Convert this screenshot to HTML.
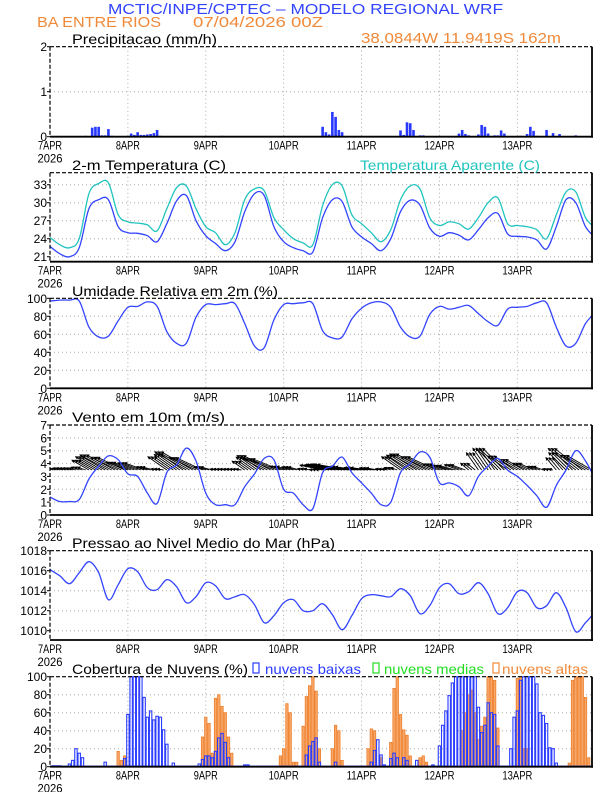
<!DOCTYPE html>
<html><head><meta charset="utf-8"><style>
html,body{margin:0;padding:0;background:#fff;}
svg{display:block;font-family:"Liberation Sans",sans-serif;}
</style></head><body>
<svg id="chart" width="612" height="792" viewBox="0 0 612 792" xmlns="http://www.w3.org/2000/svg">
<defs>
<marker id="ah" markerWidth="4" markerHeight="4" refX="3" refY="2" orient="auto" markerUnits="strokeWidth"><path d="M0,0 L4,2 L0,4 z" fill="#000"/></marker>
</defs>
<text x="108" y="14" font-size="15" fill="#3344ff" textLength="395" lengthAdjust="spacingAndGlyphs">MCTIC/INPE/CPTEC – MODELO REGIONAL WRF</text>
<text x="37" y="27" font-size="15" fill="#f08a3a" textLength="124" lengthAdjust="spacingAndGlyphs">BA ENTRE RIOS</text>
<text x="193" y="27" font-size="15" fill="#f08a3a" textLength="130" lengthAdjust="spacingAndGlyphs">07/04/2026 00Z</text>
<text x="361" y="43" font-size="15" fill="#f08a3a" textLength="200" lengthAdjust="spacingAndGlyphs">38.0844W 11.9419S 162m</text>
<g id="g"></g>
</svg>
<script>
// ---- data ----
const dayLabels = ["7APR","8APR","9APR","10APR","11APR","12APR","13APR"];
const hours3 = [0,3,6,9,12,15,18,21,24,27,30,33,36,39,42,45,48,51,54,57,60,63,66,69,72,75,78,81,84,87,90,93,96,99,102,105,108,111,114,117,120,123,126,129,132,135,138,141,144,147,150,153,156,159,162,165,168];
const precipHours = [11,13,14,15,16,17,18,19,25,26,27,28,29,30,31,32,33,34,49,53,84,85,86,87,88,89,90,108,109,110,111,112,114,115,121,126,127,128,129,132,133,134,135,137,138,139,140,145,147,148,149,150,153,155,157,162];
const precipVals = [0.02,0.2,0.22,0.22,0.03,0.03,0.17,0.02,0.07,0.04,0.1,0.04,0.04,0.05,0.06,0.08,0.15,0.02,0.01,0.02,0.22,0.1,0.05,0.55,0.44,0.15,0.1,0.14,0.04,0.32,0.3,0.15,0.03,0.03,0.01,0.07,0.15,0.06,0.03,0.05,0.26,0.22,0.07,0.03,0.03,0.14,0.07,0.02,0.06,0.22,0.13,0.02,0.15,0.08,0.06,0.03];
const tempVals = [22.7,21.5,21.0,22.5,29.0,30.5,30.5,26.0,25.0,24.9,24.5,23.5,26.5,30.3,31.2,27.0,24.5,23.2,22.0,23.5,28.5,31.5,31.2,26.0,23.5,22.5,22.0,21.8,27.5,30.5,30.2,26.0,24.3,23.2,22.0,24.0,28.5,30.4,29.6,25.8,24.4,25.0,24.6,23.8,25.5,27.5,28.2,24.8,24.4,24.3,23.8,22.3,26.0,30.5,30.0,26.0,24.2];
const appTempVals = [24.2,23,22.5,24,31.5,33.2,33.3,28,26.8,26.6,26.3,25.3,29,32.5,32.8,29,26,25,23,25,30.5,32.3,32,27.5,25.5,24,23.3,23,29.5,33,32.8,28,26.5,25,23.5,25.5,30.5,32.8,32.3,27.5,26.2,26.8,26.5,25.6,27.5,30,30.8,26.5,26.2,26,25.5,24,28,31.8,31.8,27.5,25.8];
const rhVals = [97,98,98,97,68,57,58,75,90,91,96,91,63,50,50,79,93,93,94,94,72,47,45,76,93,94,95,94,64,56,57,77,89,95,96,90,68,57,58,82,91,88,90,92,83,74,70,88,90,91,95,95,68,47,50,72,84];
const windSpd = [1.4,1.05,1.05,1.2,2.8,3.8,4.6,4.3,3.2,3.0,1.7,0.9,3.3,3.9,5.2,4.2,1.7,0.8,0.8,0.8,2.2,3.2,4.4,4.3,2.0,1.7,0.8,0.5,3.3,3.8,4.5,3.3,2.5,1.7,0.8,1.0,3.3,4.0,4.9,4.5,2.5,2.5,2.2,1.5,3.0,3.8,4.4,3.5,3.0,2.3,1.5,0.6,2.3,3.5,5.0,4.2,2.8];
const windAng = [15,15,15,20,30,30,28,25,20,20,15,10,35,35,30,25,15,10,10,10,35,35,28,22,15,15,15,10,12,12,10,8,8,10,12,20,35,32,28,25,20,15,20,40,55,55,45,35,30,25,20,15,50,45,38,30,25];
const presVals = [1016.1,1015.5,1014.7,1015.8,1016.9,1015.8,1013.1,1014.6,1016.2,1015.9,1014.3,1014.1,1015.1,1014.4,1012.8,1013.4,1014.8,1014.5,1013.2,1013.4,1013.6,1012.6,1010.8,1011.5,1012.8,1013.1,1012.0,1012.0,1012.7,1011.6,1010.1,1011.5,1013.2,1013.6,1013.5,1013.4,1014.2,1013.5,1011.7,1012.5,1014.3,1014.7,1013.7,1013.9,1014.8,1013.7,1011.7,1012.3,1013.9,1013.8,1012.3,1012.5,1013.8,1012.3,1009.9,1010.8,1011.9];
const lowHours = [1,2,3,6,7,8,9,10,17,23,24,25,26,27,28,29,30,31,32,33,34,35,36,38,46,47,48,49,50,51,52,53,54,55,60,61,79,80,81,82,83,88,99,100,101,102,103,105,106,107,109,110,113,118,120,121,122,123,124,125,126,127,128,129,130,131,132,133,134,135,136,137,138,142,143,144,145,146,147,148,149,150,151,152,153,154,155,156];
const lowVals = [1,1,1,3,7,20,15,10,5,9,58,100,100,100,100,77,55,62,52,56,55,41,25,4,3,8,12,12,10,17,32,37,27,10,2,2,13,23,28,32,5,5,5,18,30,13,2,9,15,10,10,7,7,2,23,46,62,79,93,100,100,100,100,100,100,100,66,38,46,71,60,58,23,20,55,62,96,100,100,100,100,92,60,57,48,21,20,4];
const highHours = [21,22,23,47,48,49,50,51,52,53,54,55,56,71,72,73,74,75,76,78,79,80,81,82,83,87,88,89,90,98,99,100,102,105,106,107,108,109,110,111,114,115,116,127,128,129,130,131,132,133,134,135,136,137,138,144,145,146,147,160,161,162,163,164,165,166];
const highVals = [17,7,12,33,55,48,15,76,80,67,60,33,15,12,20,70,60,5,5,45,78,90,100,84,20,20,46,40,7,20,42,40,10,27,87,100,58,41,35,12,10,12,5,40,60,80,85,60,30,45,55,100,100,96,43,98,100,20,20,4,96,100,100,100,77,10];

// ---- layout ----
const X0 = 50, X1 = 592, HMAX = 167;
const xOf = h => X0 + h * (X1 - X0) / HMAX;
const NS = "http://www.w3.org/2000/svg";
const root = document.getElementById('g');
function mk(tag, attrs, parent) {
  const e = document.createElementNS(NS, tag);
  for (const k in attrs) e.setAttribute(k, attrs[k]);
  (parent || root).appendChild(e);
  return e;
}
function yScale(p) { return v => p.bot - (v - p.min) / (p.max - p.min) * (p.bot - p.top); }

const panels = [
  {id:'precip', top:46.7, bot:136.7, min:0, max:2, ticks:[0,1,2]},
  {id:'temp', top:172.7, bot:261.7, min:20.17, max:35.0, ticks:[21,24,27,30,33]},
  {id:'rh', top:298.3, bot:388.3, min:0, max:100, ticks:[0,20,40,60,80,100]},
  {id:'wind', top:425, bot:515, min:0, max:7, ticks:[0,1,2,3,4,5,6,7]},
  {id:'pres', top:550.7, bot:640, min:1009.07, max:1018, ticks:[1010,1012,1014,1016,1018]},
  {id:'cloud', top:676.7, bot:766.7, min:0, max:100, ticks:[0,20,40,60,80,100]}
];

panels.forEach(p => {
  const y = yScale(p);
  const grp = mk('g', {});
  
  
  const cp = mk('clipPath', {id:'clip-' + p.id}, grp);
  mk('rect', {x:X0, y:p.top, width:X1 - X0, height:p.bot - p.top}, cp);
  for (let d = 1; d < 7; d++) {
    const gl = mk('line', {x1:xOf(d*24), x2:xOf(d*24), y1:p.top, y2:p.bot, stroke:'#aaa', 'stroke-width':1, 'stroke-dasharray':'1,3'}, grp);
    
    
  }
  p.ticks.forEach(t => {
    const yy = y(t);
    if (yy > p.top + 1 && yy < p.bot - 1) {
      const gl = mk('line', {x1:X0, x2:X1, y1:yy, y2:yy, stroke:'#aaa', 'stroke-width':1, 'stroke-dasharray':'1,3'}, grp);
      
      
    }
    mk('line', {x1:X0 - 3, x2:X0, y1:yy, y2:yy, stroke:'#000'}, grp);
    const tl = mk('text', {x:X0 - 3, y:yy + 4.5, 'font-size':12, 'text-anchor':'end', fill:'#000'}, grp);
    tl.textContent = t;
    
    
  });
  dayLabels.forEach((lab, i) => {
    const xx = xOf(i*24);
    const tl = mk('text', {x:xx, y:p.bot + 13, 'font-size':12, 'text-anchor':'middle', fill:'#000', textLength:lab.length * 6, lengthAdjust:'spacingAndGlyphs'}, grp);
    tl.textContent = lab;
    
    
  });
  const yr = mk('text', {x:X0, y:p.bot + 26, 'font-size':12, 'text-anchor':'middle', fill:'#000', textLength:25, lengthAdjust:'spacingAndGlyphs'}, grp);
  yr.textContent = '2026';
  
  
  p.y = y; p.g = grp;
});

function smoothPath(pts) {
  let d = 'M' + pts[0][0].toFixed(1) + ',' + pts[0][1].toFixed(1);
  for (let i = 0; i < pts.length - 1; i++) {
    const p0 = pts[Math.max(0, i - 1)], p1 = pts[i], p2 = pts[i + 1], p3 = pts[Math.min(pts.length - 1, i + 2)];
    const c1x = p1[0] + (p2[0] - p0[0]) / 6, c1y = p1[1] + (p2[1] - p0[1]) / 6;
    const c2x = p2[0] - (p3[0] - p1[0]) / 6, c2y = p2[1] - (p3[1] - p1[1]) / 6;
    d += ' C' + c1x.toFixed(1) + ',' + c1y.toFixed(1) + ' ' + c2x.toFixed(1) + ',' + c2y.toFixed(1) + ' ' + p2[0].toFixed(1) + ',' + p2[1].toFixed(1);
  }
  return d;
}
function drawLine(p, vals, color, name) {
  const pts = hours3.map((h, i) => [xOf(h), p.y(vals[i])]);
  const l = mk('path', {d:smoothPath(pts), fill:'none', stroke:color, 'stroke-width':1.3, 'clip-path':'url(#clip-' + p.id + ')'}, p.g);
  
  
}

// precip bars
{
  const p = panels[0];
  precipHours.forEach((h, i) => {
    const b = mk('rect', {x:xOf(h) - 1.3, y:p.y(precipVals[i]), width:2.6, height:p.bot - p.y(precipVals[i]), fill:'#2838ff'}, p.g);
    
    
  });
}
drawLine(panels[1], appTempVals, '#22c4bf', 'apparent-temperature-line');
drawLine(panels[1], tempVals, '#3344ff', 'temperature-line');
drawLine(panels[2], rhVals, '#3344ff', 'humidity-line');
// wind arrows (each 3-hourly sample drawn for its 3 hourly slots)
{
  const p = panels[3];
  const base = p.y(3.5);
  const k = 7;
  hours3.forEach((h, i) => {
    const L = windSpd[i] * k;
    const a = windAng[i] * Math.PI / 180;
    for (let s = 0; s < 3; s++) {
      const x1 = xOf(h + s);
      if (x1 > X1) continue;
      const ar = mk('line', {x1:x1, y1:base, x2:x1 - L * Math.cos(a), y2:base - L * Math.sin(a), stroke:'#000', 'stroke-width':0.9, 'marker-end':'url(#ah)', 'clip-path':'url(#clip-wind)'}, p.g);
      
      
    }
  });
}
drawLine(panels[3], windSpd, '#3344ff', 'wind-speed-line');
drawLine(panels[4], presVals, '#3344ff', 'pressure-line');
// clouds
{
  const p = panels[5];
  highHours.forEach((h, i) => {
    const b = mk('rect', {x:xOf(h) - 1.2, y:p.y(highVals[i]), width:2.4, height:p.bot - p.y(highVals[i]), fill:'#f7a76a', stroke:'#ee7f2a', 'stroke-width':0.8}, p.g);
    
    
  });
  lowHours.forEach((h, i) => {
    const b = mk('rect', {x:xOf(h) - 1.2, y:p.y(lowVals[i]), width:2.4, height:p.bot - p.y(lowVals[i]), fill:'none', stroke:'#2a3cff', 'stroke-width':1.1}, p.g);
    
    
  });
  const bl = mk('line', {x1:X0, x2:X1, y1:p.bot - 0.5, y2:p.bot - 0.5, stroke:'#2a3cff', 'stroke-width':1.2}, p.g);
  
  
}
// frames
panels.forEach(p => {
  mk('line', {x1:X0, x2:X1, y1:p.top, y2:p.top, stroke:'#000', 'stroke-width':1.2, 'stroke-dasharray':'4,2'}, p.g);
  mk('line', {x1:X0, x2:X0, y1:p.top, y2:p.bot, stroke:'#000', 'stroke-width':1.2, 'stroke-dasharray':'4,2'}, p.g);
  mk('line', {x1:X1, x2:X1, y1:p.top, y2:p.bot + 1, stroke:'#000', 'stroke-width':1.8}, p.g);
  mk('line', {x1:X0, x2:X1 + 1, y1:p.bot, y2:p.bot, stroke:'#000', 'stroke-width':1.8}, p.g);
});
// titles
const titles = [
  ['Precipitacao (mm/h)', 72, 44, 145, '#000', 'precip-title'],
  ['2-m Temperatura (C)', 72, 170, 154, '#000', 'temp-title'],
  ['Temperatura Aparente (C)', 360, 170, 180, '#22c4bf', 'apparent-temp-legend'],
  ['Umidade Relativa em 2m (%)', 72, 296, 206, '#000', 'humidity-title'],
  ['Vento em 10m (m/s)', 72, 422, 153, '#000', 'wind-title'],
  ['Pressao ao Nivel Medio do Mar (hPa)', 72, 548, 263, '#000', 'pressure-title'],
  ['Cobertura de Nuvens (%)', 72, 674, 176, '#000', 'cloud-title'],
  ['nuvens baixas', 265, 674, 96, '#2a3cff', 'legend-low-clouds'],
  ['nuvens medias', 384, 674, 100, '#22dd22', 'legend-mid-clouds'],
  ['nuvens altas', 502, 674, 86, '#f08a3a', 'legend-high-clouds']
];
titles.forEach(t => {
  const e = mk('text', {x:t[1], y:t[2], 'font-size':14, fill:t[4], textLength:t[3], lengthAdjust:'spacingAndGlyphs'});
  e.textContent = t[0];
  
  
});
[[253,'#2a3cff','legend-low-swatch'],[373,'#22dd22','legend-mid-swatch'],[493,'#f08a3a','legend-high-swatch']].forEach(s => {
  const r = mk('rect', {x:s[0], y:663, width:6, height:10, fill:'none', stroke:s[1], 'stroke-width':1.2});
  
  
});
</script>
</body></html>
